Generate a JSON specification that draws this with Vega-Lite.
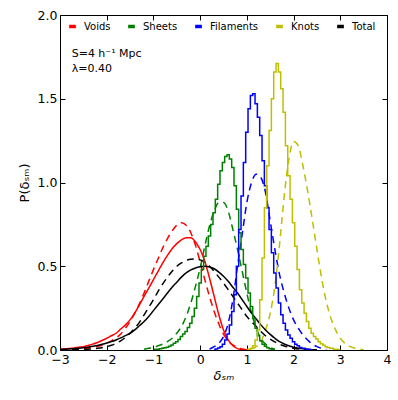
{
  "$schema": "https://vega.github.io/schema/vega-lite/v6.json",
  "width": 327,
  "height": 335,
  "autosize": {"type": "none"},
  "padding": {"left": 60, "top": 15, "right": 11, "bottom": 50},
  "background": "white",
  "config": {
    "view": {"stroke": "black", "strokeWidth": 1},
    "font": "DejaVu Sans",
    "axis": {
      "grid": false, "domain": false,
      "labelFont": "DejaVu Sans", "labelFontSize": 12.5, "labelColor": "black", "labelFlush": false,
      "tickColor": "black", "tickSize": -5, "tickWidth": 1, "labelPadding": 8,
      "titleFont": "DejaVu Sans", "titleFontWeight": "normal", "titleColor": "black", "titleFontSize": 13
    }
  },
  "datasets": {
    "notes": [
      {"label": "S=4 h⁻¹ Mpc", "x": -2.75, "y": 1.77},
      {"label": "λ=0.40", "x": -2.75, "y": 1.68}
    ],
    "curves": [
      {"s":"Voids","k":"smooth","x":-3.0,"y":0.005},{"s":"Voids","k":"smooth","x":-2.9,"y":0.007},{"s":"Voids","k":"smooth","x":-2.8,"y":0.009},{"s":"Voids","k":"smooth","x":-2.7,"y":0.012},{"s":"Voids","k":"smooth","x":-2.6,"y":0.016},{"s":"Voids","k":"smooth","x":-2.5,"y":0.02},{"s":"Voids","k":"smooth","x":-2.4,"y":0.027},{"s":"Voids","k":"smooth","x":-2.3,"y":0.035},{"s":"Voids","k":"smooth","x":-2.2,"y":0.045},{"s":"Voids","k":"smooth","x":-2.1,"y":0.057},{"s":"Voids","k":"smooth","x":-2.0,"y":0.07},{"s":"Voids","k":"smooth","x":-1.9,"y":0.085},{"s":"Voids","k":"smooth","x":-1.8,"y":0.10},{"s":"Voids","k":"smooth","x":-1.7,"y":0.125},{"s":"Voids","k":"smooth","x":-1.6,"y":0.15},{"s":"Voids","k":"smooth","x":-1.5,"y":0.18},{"s":"Voids","k":"smooth","x":-1.4,"y":0.22},{"s":"Voids","k":"smooth","x":-1.3,"y":0.27},{"s":"Voids","k":"smooth","x":-1.2,"y":0.32},{"s":"Voids","k":"smooth","x":-1.1,"y":0.37},{"s":"Voids","k":"smooth","x":-1.0,"y":0.42},{"s":"Voids","k":"smooth","x":-0.9,"y":0.47},{"s":"Voids","k":"smooth","x":-0.8,"y":0.52},{"s":"Voids","k":"smooth","x":-0.7,"y":0.565},{"s":"Voids","k":"smooth","x":-0.6,"y":0.605},{"s":"Voids","k":"smooth","x":-0.5,"y":0.635},{"s":"Voids","k":"smooth","x":-0.4,"y":0.658},{"s":"Voids","k":"smooth","x":-0.3,"y":0.67},{"s":"Voids","k":"smooth","x":-0.2,"y":0.67},{"s":"Voids","k":"smooth","x":-0.1,"y":0.645},{"s":"Voids","k":"smooth","x":0.0,"y":0.60},{"s":"Voids","k":"smooth","x":0.1,"y":0.53},{"s":"Voids","k":"smooth","x":0.2,"y":0.43},{"s":"Voids","k":"smooth","x":0.3,"y":0.32},{"s":"Voids","k":"smooth","x":0.4,"y":0.21},{"s":"Voids","k":"smooth","x":0.5,"y":0.12},{"s":"Voids","k":"smooth","x":0.6,"y":0.06},{"s":"Voids","k":"smooth","x":0.7,"y":0.025},{"s":"Voids","k":"smooth","x":0.8,"y":0.008},{"s":"Voids","k":"smooth","x":0.9,"y":0.002},{"s":"Voids","k":"smooth","x":1.0,"y":0.0},

      {"s":"Total","k":"smooth","x":-3.0,"y":0.003},{"s":"Total","k":"smooth","x":-2.9,"y":0.004},{"s":"Total","k":"smooth","x":-2.8,"y":0.006},{"s":"Total","k":"smooth","x":-2.7,"y":0.008},{"s":"Total","k":"smooth","x":-2.6,"y":0.01},{"s":"Total","k":"smooth","x":-2.5,"y":0.013},{"s":"Total","k":"smooth","x":-2.4,"y":0.017},{"s":"Total","k":"smooth","x":-2.3,"y":0.022},{"s":"Total","k":"smooth","x":-2.2,"y":0.027},{"s":"Total","k":"smooth","x":-2.1,"y":0.034},{"s":"Total","k":"smooth","x":-2.0,"y":0.042},{"s":"Total","k":"smooth","x":-1.9,"y":0.05},{"s":"Total","k":"smooth","x":-1.8,"y":0.06},{"s":"Total","k":"smooth","x":-1.7,"y":0.072},{"s":"Total","k":"smooth","x":-1.6,"y":0.086},{"s":"Total","k":"smooth","x":-1.5,"y":0.10},{"s":"Total","k":"smooth","x":-1.4,"y":0.12},{"s":"Total","k":"smooth","x":-1.3,"y":0.145},{"s":"Total","k":"smooth","x":-1.2,"y":0.17},{"s":"Total","k":"smooth","x":-1.1,"y":0.20},{"s":"Total","k":"smooth","x":-1.0,"y":0.235},{"s":"Total","k":"smooth","x":-0.9,"y":0.27},{"s":"Total","k":"smooth","x":-0.8,"y":0.305},{"s":"Total","k":"smooth","x":-0.7,"y":0.34},{"s":"Total","k":"smooth","x":-0.6,"y":0.375},{"s":"Total","k":"smooth","x":-0.5,"y":0.405},{"s":"Total","k":"smooth","x":-0.4,"y":0.435},{"s":"Total","k":"smooth","x":-0.3,"y":0.46},{"s":"Total","k":"smooth","x":-0.2,"y":0.478},{"s":"Total","k":"smooth","x":-0.1,"y":0.49},{"s":"Total","k":"smooth","x":0.0,"y":0.497},{"s":"Total","k":"smooth","x":0.1,"y":0.50},{"s":"Total","k":"smooth","x":0.2,"y":0.496},{"s":"Total","k":"smooth","x":0.3,"y":0.485},{"s":"Total","k":"smooth","x":0.4,"y":0.465},{"s":"Total","k":"smooth","x":0.5,"y":0.44},{"s":"Total","k":"smooth","x":0.6,"y":0.41},{"s":"Total","k":"smooth","x":0.7,"y":0.375},{"s":"Total","k":"smooth","x":0.8,"y":0.34},{"s":"Total","k":"smooth","x":0.9,"y":0.30},{"s":"Total","k":"smooth","x":1.0,"y":0.26},{"s":"Total","k":"smooth","x":1.1,"y":0.22},{"s":"Total","k":"smooth","x":1.2,"y":0.185},{"s":"Total","k":"smooth","x":1.3,"y":0.15},{"s":"Total","k":"smooth","x":1.4,"y":0.12},{"s":"Total","k":"smooth","x":1.5,"y":0.093},{"s":"Total","k":"smooth","x":1.6,"y":0.07},{"s":"Total","k":"smooth","x":1.7,"y":0.05},{"s":"Total","k":"smooth","x":1.8,"y":0.036},{"s":"Total","k":"smooth","x":1.9,"y":0.025},{"s":"Total","k":"smooth","x":2.0,"y":0.017},{"s":"Total","k":"smooth","x":2.1,"y":0.011},{"s":"Total","k":"smooth","x":2.2,"y":0.007},{"s":"Total","k":"smooth","x":2.3,"y":0.004},{"s":"Total","k":"smooth","x":2.4,"y":0.002},{"s":"Total","k":"smooth","x":2.5,"y":0.001},

      {"s":"Sheets","k":"step","x":-1.0,"y":0.003},{"s":"Sheets","k":"step","x":-0.95,"y":0.004},{"s":"Sheets","k":"step","x":-0.9,"y":0.005},{"s":"Sheets","k":"step","x":-0.85,"y":0.007},{"s":"Sheets","k":"step","x":-0.8,"y":0.01},{"s":"Sheets","k":"step","x":-0.75,"y":0.013},{"s":"Sheets","k":"step","x":-0.7,"y":0.017},{"s":"Sheets","k":"step","x":-0.65,"y":0.022},{"s":"Sheets","k":"step","x":-0.6,"y":0.03},{"s":"Sheets","k":"step","x":-0.55,"y":0.04},{"s":"Sheets","k":"step","x":-0.5,"y":0.05},{"s":"Sheets","k":"step","x":-0.45,"y":0.063},{"s":"Sheets","k":"step","x":-0.4,"y":0.08},{"s":"Sheets","k":"step","x":-0.35,"y":0.095},{"s":"Sheets","k":"step","x":-0.3,"y":0.11},{"s":"Sheets","k":"step","x":-0.25,"y":0.135},{"s":"Sheets","k":"step","x":-0.2,"y":0.16},{"s":"Sheets","k":"step","x":-0.15,"y":0.20},{"s":"Sheets","k":"step","x":-0.1,"y":0.25},{"s":"Sheets","k":"step","x":-0.05,"y":0.32},{"s":"Sheets","k":"step","x":0.0,"y":0.40},{"s":"Sheets","k":"step","x":0.05,"y":0.48},{"s":"Sheets","k":"step","x":0.1,"y":0.56},{"s":"Sheets","k":"step","x":0.15,"y":0.62},{"s":"Sheets","k":"step","x":0.2,"y":0.68},{"s":"Sheets","k":"step","x":0.25,"y":0.75},{"s":"Sheets","k":"step","x":0.3,"y":0.82},{"s":"Sheets","k":"step","x":0.35,"y":0.90},{"s":"Sheets","k":"step","x":0.4,"y":0.99},{"s":"Sheets","k":"step","x":0.45,"y":1.07},{"s":"Sheets","k":"step","x":0.5,"y":1.12},{"s":"Sheets","k":"step","x":0.55,"y":1.155},{"s":"Sheets","k":"step","x":0.6,"y":1.165},{"s":"Sheets","k":"step","x":0.65,"y":1.14},{"s":"Sheets","k":"step","x":0.7,"y":1.09},{"s":"Sheets","k":"step","x":0.75,"y":0.98},{"s":"Sheets","k":"step","x":0.8,"y":0.84},{"s":"Sheets","k":"step","x":0.85,"y":0.70},{"s":"Sheets","k":"step","x":0.9,"y":0.60},{"s":"Sheets","k":"step","x":0.95,"y":0.51},{"s":"Sheets","k":"step","x":1.0,"y":0.43},{"s":"Sheets","k":"step","x":1.05,"y":0.34},{"s":"Sheets","k":"step","x":1.1,"y":0.26},{"s":"Sheets","k":"step","x":1.15,"y":0.19},{"s":"Sheets","k":"step","x":1.2,"y":0.13},{"s":"Sheets","k":"step","x":1.25,"y":0.085},{"s":"Sheets","k":"step","x":1.3,"y":0.055},{"s":"Sheets","k":"step","x":1.35,"y":0.035},{"s":"Sheets","k":"step","x":1.4,"y":0.022},{"s":"Sheets","k":"step","x":1.45,"y":0.014},{"s":"Sheets","k":"step","x":1.5,"y":0.008},{"s":"Sheets","k":"step","x":1.55,"y":0.005},{"s":"Sheets","k":"step","x":1.6,"y":0.003},

      {"s":"Filaments","k":"step","x":0.3,"y":0.003},{"s":"Filaments","k":"step","x":0.35,"y":0.006},{"s":"Filaments","k":"step","x":0.4,"y":0.012},{"s":"Filaments","k":"step","x":0.45,"y":0.02},{"s":"Filaments","k":"step","x":0.5,"y":0.035},{"s":"Filaments","k":"step","x":0.55,"y":0.06},{"s":"Filaments","k":"step","x":0.6,"y":0.095},{"s":"Filaments","k":"step","x":0.65,"y":0.15},{"s":"Filaments","k":"step","x":0.7,"y":0.23},{"s":"Filaments","k":"step","x":0.75,"y":0.33},{"s":"Filaments","k":"step","x":0.8,"y":0.50},{"s":"Filaments","k":"step","x":0.85,"y":0.72},{"s":"Filaments","k":"step","x":0.9,"y":0.92},{"s":"Filaments","k":"step","x":0.95,"y":1.12},{"s":"Filaments","k":"step","x":1.0,"y":1.30},{"s":"Filaments","k":"step","x":1.05,"y":1.44},{"s":"Filaments","k":"step","x":1.1,"y":1.52},{"s":"Filaments","k":"step","x":1.15,"y":1.53},{"s":"Filaments","k":"step","x":1.2,"y":1.47},{"s":"Filaments","k":"step","x":1.25,"y":1.39},{"s":"Filaments","k":"step","x":1.3,"y":1.28},{"s":"Filaments","k":"step","x":1.35,"y":1.13},{"s":"Filaments","k":"step","x":1.4,"y":0.98},{"s":"Filaments","k":"step","x":1.45,"y":0.85},{"s":"Filaments","k":"step","x":1.5,"y":0.72},{"s":"Filaments","k":"step","x":1.55,"y":0.58},{"s":"Filaments","k":"step","x":1.6,"y":0.46},{"s":"Filaments","k":"step","x":1.65,"y":0.37},{"s":"Filaments","k":"step","x":1.7,"y":0.28},{"s":"Filaments","k":"step","x":1.75,"y":0.21},{"s":"Filaments","k":"step","x":1.8,"y":0.16},{"s":"Filaments","k":"step","x":1.85,"y":0.12},{"s":"Filaments","k":"step","x":1.9,"y":0.09},{"s":"Filaments","k":"step","x":1.95,"y":0.07},{"s":"Filaments","k":"step","x":2.0,"y":0.05},{"s":"Filaments","k":"step","x":2.05,"y":0.035},{"s":"Filaments","k":"step","x":2.1,"y":0.025},{"s":"Filaments","k":"step","x":2.15,"y":0.015},{"s":"Filaments","k":"step","x":2.2,"y":0.01},{"s":"Filaments","k":"step","x":2.3,"y":0.005},{"s":"Filaments","k":"step","x":2.4,"y":0.002},

      {"s":"Knots","k":"step","x":1.0,"y":0.002},{"s":"Knots","k":"step","x":1.05,"y":0.005},{"s":"Knots","k":"step","x":1.1,"y":0.01},{"s":"Knots","k":"step","x":1.15,"y":0.025},{"s":"Knots","k":"step","x":1.2,"y":0.06},{"s":"Knots","k":"step","x":1.25,"y":0.12},{"s":"Knots","k":"step","x":1.3,"y":0.30},{"s":"Knots","k":"step","x":1.35,"y":0.55},{"s":"Knots","k":"step","x":1.4,"y":0.85},{"s":"Knots","k":"step","x":1.45,"y":1.10},{"s":"Knots","k":"step","x":1.5,"y":1.31},{"s":"Knots","k":"step","x":1.55,"y":1.50},{"s":"Knots","k":"step","x":1.6,"y":1.66},{"s":"Knots","k":"step","x":1.65,"y":1.71},{"s":"Knots","k":"step","x":1.7,"y":1.66},{"s":"Knots","k":"step","x":1.75,"y":1.56},{"s":"Knots","k":"step","x":1.8,"y":1.42},{"s":"Knots","k":"step","x":1.85,"y":1.22},{"s":"Knots","k":"step","x":1.9,"y":1.04},{"s":"Knots","k":"step","x":1.95,"y":0.90},{"s":"Knots","k":"step","x":2.0,"y":0.76},{"s":"Knots","k":"step","x":2.05,"y":0.62},{"s":"Knots","k":"step","x":2.1,"y":0.48},{"s":"Knots","k":"step","x":2.15,"y":0.36},{"s":"Knots","k":"step","x":2.2,"y":0.28},{"s":"Knots","k":"step","x":2.25,"y":0.22},{"s":"Knots","k":"step","x":2.3,"y":0.17},{"s":"Knots","k":"step","x":2.35,"y":0.13},{"s":"Knots","k":"step","x":2.4,"y":0.10},{"s":"Knots","k":"step","x":2.45,"y":0.08},{"s":"Knots","k":"step","x":2.5,"y":0.065},{"s":"Knots","k":"step","x":2.55,"y":0.05},{"s":"Knots","k":"step","x":2.6,"y":0.038},{"s":"Knots","k":"step","x":2.65,"y":0.028},{"s":"Knots","k":"step","x":2.7,"y":0.02},{"s":"Knots","k":"step","x":2.75,"y":0.015},{"s":"Knots","k":"step","x":2.8,"y":0.01},{"s":"Knots","k":"step","x":2.9,"y":0.005},{"s":"Knots","k":"step","x":3.0,"y":0.002},

      {"s":"Voids","k":"fit","x":-3.0,"y":0.0},{"s":"Voids","k":"fit","x":-2.8,"y":0.002},{"s":"Voids","k":"fit","x":-2.6,"y":0.006},{"s":"Voids","k":"fit","x":-2.4,"y":0.012},{"s":"Voids","k":"fit","x":-2.2,"y":0.022},{"s":"Voids","k":"fit","x":-2.0,"y":0.04},{"s":"Voids","k":"fit","x":-1.9,"y":0.055},{"s":"Voids","k":"fit","x":-1.8,"y":0.072},{"s":"Voids","k":"fit","x":-1.7,"y":0.095},{"s":"Voids","k":"fit","x":-1.6,"y":0.13},{"s":"Voids","k":"fit","x":-1.5,"y":0.17},{"s":"Voids","k":"fit","x":-1.4,"y":0.22},{"s":"Voids","k":"fit","x":-1.3,"y":0.275},{"s":"Voids","k":"fit","x":-1.2,"y":0.34},{"s":"Voids","k":"fit","x":-1.1,"y":0.41},{"s":"Voids","k":"fit","x":-1.0,"y":0.48},{"s":"Voids","k":"fit","x":-0.9,"y":0.545},{"s":"Voids","k":"fit","x":-0.8,"y":0.61},{"s":"Voids","k":"fit","x":-0.7,"y":0.665},{"s":"Voids","k":"fit","x":-0.6,"y":0.71},{"s":"Voids","k":"fit","x":-0.5,"y":0.745},{"s":"Voids","k":"fit","x":-0.4,"y":0.76},{"s":"Voids","k":"fit","x":-0.3,"y":0.745},{"s":"Voids","k":"fit","x":-0.2,"y":0.70},{"s":"Voids","k":"fit","x":-0.1,"y":0.625},{"s":"Voids","k":"fit","x":0.0,"y":0.525},{"s":"Voids","k":"fit","x":0.1,"y":0.42},{"s":"Voids","k":"fit","x":0.2,"y":0.32},{"s":"Voids","k":"fit","x":0.3,"y":0.23},{"s":"Voids","k":"fit","x":0.4,"y":0.155},{"s":"Voids","k":"fit","x":0.5,"y":0.095},{"s":"Voids","k":"fit","x":0.6,"y":0.055},{"s":"Voids","k":"fit","x":0.7,"y":0.03},{"s":"Voids","k":"fit","x":0.8,"y":0.014},{"s":"Voids","k":"fit","x":0.9,"y":0.006},{"s":"Voids","k":"fit","x":1.0,"y":0.002},

      {"s":"Sheets","k":"fit","x":-1.2,"y":0.005},{"s":"Sheets","k":"fit","x":-1.1,"y":0.01},{"s":"Sheets","k":"fit","x":-1.0,"y":0.015},{"s":"Sheets","k":"fit","x":-0.9,"y":0.025},{"s":"Sheets","k":"fit","x":-0.8,"y":0.035},{"s":"Sheets","k":"fit","x":-0.7,"y":0.05},{"s":"Sheets","k":"fit","x":-0.6,"y":0.07},{"s":"Sheets","k":"fit","x":-0.5,"y":0.10},{"s":"Sheets","k":"fit","x":-0.4,"y":0.14},{"s":"Sheets","k":"fit","x":-0.3,"y":0.20},{"s":"Sheets","k":"fit","x":-0.2,"y":0.28},{"s":"Sheets","k":"fit","x":-0.1,"y":0.38},{"s":"Sheets","k":"fit","x":0.0,"y":0.49},{"s":"Sheets","k":"fit","x":0.1,"y":0.62},{"s":"Sheets","k":"fit","x":0.2,"y":0.74},{"s":"Sheets","k":"fit","x":0.3,"y":0.83},{"s":"Sheets","k":"fit","x":0.4,"y":0.88},{"s":"Sheets","k":"fit","x":0.5,"y":0.88},{"s":"Sheets","k":"fit","x":0.6,"y":0.83},{"s":"Sheets","k":"fit","x":0.7,"y":0.72},{"s":"Sheets","k":"fit","x":0.8,"y":0.60},{"s":"Sheets","k":"fit","x":0.9,"y":0.47},{"s":"Sheets","k":"fit","x":1.0,"y":0.34},{"s":"Sheets","k":"fit","x":1.1,"y":0.22},{"s":"Sheets","k":"fit","x":1.2,"y":0.13},{"s":"Sheets","k":"fit","x":1.3,"y":0.07},{"s":"Sheets","k":"fit","x":1.4,"y":0.035},{"s":"Sheets","k":"fit","x":1.5,"y":0.015},{"s":"Sheets","k":"fit","x":1.6,"y":0.005},

      {"s":"Filaments","k":"fit","x":0.2,"y":0.005},{"s":"Filaments","k":"fit","x":0.3,"y":0.02},{"s":"Filaments","k":"fit","x":0.4,"y":0.04},{"s":"Filaments","k":"fit","x":0.5,"y":0.08},{"s":"Filaments","k":"fit","x":0.6,"y":0.16},{"s":"Filaments","k":"fit","x":0.7,"y":0.30},{"s":"Filaments","k":"fit","x":0.8,"y":0.50},{"s":"Filaments","k":"fit","x":0.9,"y":0.69},{"s":"Filaments","k":"fit","x":1.0,"y":0.88},{"s":"Filaments","k":"fit","x":1.1,"y":1.00},{"s":"Filaments","k":"fit","x":1.2,"y":1.05},{"s":"Filaments","k":"fit","x":1.3,"y":1.03},{"s":"Filaments","k":"fit","x":1.4,"y":0.94},{"s":"Filaments","k":"fit","x":1.5,"y":0.77},{"s":"Filaments","k":"fit","x":1.6,"y":0.60},{"s":"Filaments","k":"fit","x":1.7,"y":0.45},{"s":"Filaments","k":"fit","x":1.8,"y":0.34},{"s":"Filaments","k":"fit","x":1.9,"y":0.25},{"s":"Filaments","k":"fit","x":2.0,"y":0.18},{"s":"Filaments","k":"fit","x":2.1,"y":0.13},{"s":"Filaments","k":"fit","x":2.2,"y":0.09},{"s":"Filaments","k":"fit","x":2.3,"y":0.06},{"s":"Filaments","k":"fit","x":2.4,"y":0.035},{"s":"Filaments","k":"fit","x":2.5,"y":0.02},{"s":"Filaments","k":"fit","x":2.6,"y":0.01},{"s":"Filaments","k":"fit","x":2.7,"y":0.004},

      {"s":"Knots","k":"fit","x":1.1,"y":0.005},{"s":"Knots","k":"fit","x":1.2,"y":0.02},{"s":"Knots","k":"fit","x":1.3,"y":0.05},{"s":"Knots","k":"fit","x":1.4,"y":0.12},{"s":"Knots","k":"fit","x":1.5,"y":0.22},{"s":"Knots","k":"fit","x":1.6,"y":0.38},{"s":"Knots","k":"fit","x":1.7,"y":0.63},{"s":"Knots","k":"fit","x":1.8,"y":0.92},{"s":"Knots","k":"fit","x":1.9,"y":1.14},{"s":"Knots","k":"fit","x":2.0,"y":1.245},{"s":"Knots","k":"fit","x":2.1,"y":1.22},{"s":"Knots","k":"fit","x":2.2,"y":1.10},{"s":"Knots","k":"fit","x":2.3,"y":0.95},{"s":"Knots","k":"fit","x":2.4,"y":0.78},{"s":"Knots","k":"fit","x":2.5,"y":0.60},{"s":"Knots","k":"fit","x":2.6,"y":0.43},{"s":"Knots","k":"fit","x":2.7,"y":0.29},{"s":"Knots","k":"fit","x":2.8,"y":0.19},{"s":"Knots","k":"fit","x":2.9,"y":0.12},{"s":"Knots","k":"fit","x":3.0,"y":0.07},{"s":"Knots","k":"fit","x":3.1,"y":0.04},{"s":"Knots","k":"fit","x":3.2,"y":0.022},{"s":"Knots","k":"fit","x":3.3,"y":0.012},{"s":"Knots","k":"fit","x":3.4,"y":0.006},{"s":"Knots","k":"fit","x":3.5,"y":0.002},

      {"s":"Total","k":"fit","x":-3.0,"y":0.0},{"s":"Total","k":"fit","x":-2.6,"y":0.002},{"s":"Total","k":"fit","x":-2.4,"y":0.005},{"s":"Total","k":"fit","x":-2.2,"y":0.01},{"s":"Total","k":"fit","x":-2.0,"y":0.02},{"s":"Total","k":"fit","x":-1.9,"y":0.028},{"s":"Total","k":"fit","x":-1.8,"y":0.04},{"s":"Total","k":"fit","x":-1.7,"y":0.055},{"s":"Total","k":"fit","x":-1.6,"y":0.075},{"s":"Total","k":"fit","x":-1.5,"y":0.10},{"s":"Total","k":"fit","x":-1.4,"y":0.13},{"s":"Total","k":"fit","x":-1.3,"y":0.165},{"s":"Total","k":"fit","x":-1.2,"y":0.21},{"s":"Total","k":"fit","x":-1.1,"y":0.255},{"s":"Total","k":"fit","x":-1.0,"y":0.30},{"s":"Total","k":"fit","x":-0.9,"y":0.35},{"s":"Total","k":"fit","x":-0.8,"y":0.395},{"s":"Total","k":"fit","x":-0.7,"y":0.435},{"s":"Total","k":"fit","x":-0.6,"y":0.47},{"s":"Total","k":"fit","x":-0.5,"y":0.50},{"s":"Total","k":"fit","x":-0.4,"y":0.52},{"s":"Total","k":"fit","x":-0.3,"y":0.535},{"s":"Total","k":"fit","x":-0.2,"y":0.542},{"s":"Total","k":"fit","x":-0.1,"y":0.543},{"s":"Total","k":"fit","x":0.0,"y":0.538},{"s":"Total","k":"fit","x":0.1,"y":0.525},{"s":"Total","k":"fit","x":0.2,"y":0.50},{"s":"Total","k":"fit","x":0.3,"y":0.47},{"s":"Total","k":"fit","x":0.4,"y":0.435},{"s":"Total","k":"fit","x":0.5,"y":0.40},{"s":"Total","k":"fit","x":0.6,"y":0.36},{"s":"Total","k":"fit","x":0.7,"y":0.32},{"s":"Total","k":"fit","x":0.8,"y":0.28},{"s":"Total","k":"fit","x":0.9,"y":0.24},{"s":"Total","k":"fit","x":1.0,"y":0.20},{"s":"Total","k":"fit","x":1.1,"y":0.17},{"s":"Total","k":"fit","x":1.2,"y":0.14},{"s":"Total","k":"fit","x":1.3,"y":0.11},{"s":"Total","k":"fit","x":1.4,"y":0.085},{"s":"Total","k":"fit","x":1.5,"y":0.065},{"s":"Total","k":"fit","x":1.6,"y":0.048},{"s":"Total","k":"fit","x":1.7,"y":0.034},{"s":"Total","k":"fit","x":1.8,"y":0.024},{"s":"Total","k":"fit","x":1.9,"y":0.016},{"s":"Total","k":"fit","x":2.0,"y":0.01},{"s":"Total","k":"fit","x":2.2,"y":0.004},{"s":"Total","k":"fit","x":2.4,"y":0.001}
    ]
  },
  "layer": [
    {
      "data": {"name": "curves"},
      "transform": [{"filter": "datum.k === 'fit'"}],
      "mark": {"type": "line", "strokeDash": [7, 5], "strokeWidth": 1.5, "interpolate": "monotone", "clip": true},
      "encoding": {
        "x": {"field": "x", "type": "quantitative", "scale": {"domain": [-3, 4]},
              "axis": {"orient": "top", "labels": false, "title": null, "values": [-3, -2, -1, 0, 1, 2, 3, 4]}},
        "y": {"field": "y", "type": "quantitative", "scale": {"domain": [0, 2]},
              "axis": {"orient": "right", "labels": false, "title": null, "values": [0, 0.5, 1, 1.5, 2]}},
        "color": {"field": "s", "type": "nominal",
                  "scale": {"domain": ["Voids", "Sheets", "Filaments", "Knots", "Total"], "range": ["#ff0000", "#008000", "#0000ff", "#bfbf00", "#000000"]},
                  "legend": {
                    "title": null, "orient": "none", "legendX": 7, "legendY": 6, "direction": "horizontal", "columns": 5,
                    "gridAlign": "none", "padding": 0, "labelFont": "DejaVu Sans", "labelFontSize": 10, "labelColor": "black",
                    "symbolType": "stroke", "symbolSize": 45, "symbolStrokeWidth": 3.5, "symbolDash": [],
                    "labelOffset": 6, "columnPadding": 10
                  }}
      }
    },
    {
      "data": {"name": "curves"},
      "transform": [{"filter": "datum.k === 'smooth'"}],
      "mark": {"type": "line", "strokeWidth": 1.5, "interpolate": "monotone", "clip": true},
      "encoding": {
        "x": {"field": "x", "type": "quantitative", "axis": null},
        "y": {"field": "y", "type": "quantitative", "axis": null},
        "color": {"field": "s", "type": "nominal"}
      }
    },
    {
      "data": {"name": "curves"},
      "transform": [{"filter": "datum.k === 'step'"}],
      "mark": {"type": "line", "strokeWidth": 1.5, "interpolate": "step", "clip": true},
      "encoding": {
        "x": {"field": "x", "type": "quantitative",
              "axis": {"orient": "bottom", "title": "δₛₘ", "titleFontStyle": "italic", "titlePadding": 4, "values": [-3, -2, -1, 0, 1, 2, 3, 4]}},
        "y": {"field": "y", "type": "quantitative",
              "axis": {"orient": "left", "title": "P(δₛₘ)", "titlePadding": 6, "format": ".1f", "values": [0, 0.5, 1, 1.5, 2]}},
        "color": {"field": "s", "type": "nominal"}
      }
    },
    {
      "data": {"name": "notes"},
      "mark": {"type": "text", "align": "left", "baseline": "middle", "fontSize": 11, "font": "DejaVu Sans", "color": "black"},
      "encoding": {
        "x": {"field": "x", "type": "quantitative", "axis": null},
        "y": {"field": "y", "type": "quantitative", "axis": null},
        "text": {"field": "label"}
      }
    }
  ]
}
